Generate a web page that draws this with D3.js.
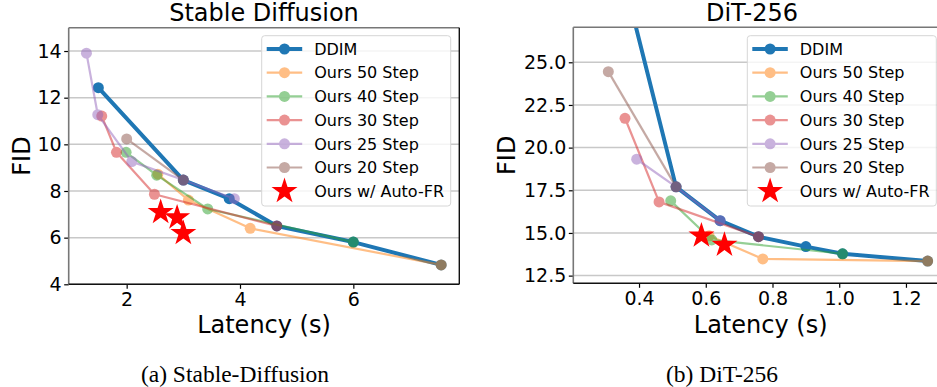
<!DOCTYPE html>
<html>
<head>
<meta charset="utf-8">
<script src="https://cdn.jsdelivr.net/npm/d3@7/dist/d3.min.js"></script>
<style>
  body { margin: 0; background: #fff; }
  text { font-family: "DejaVu Sans", sans-serif; }
</style>
</head>
<body>
<svg id="chart" width="937" height="387"></svg>
<script>
// series names / colours (tab10)
var seriesNames = ["DDIM", "Ours 50 Step", "Ours 40 Step", "Ours 30 Step", "Ours 25 Step", "Ours 20 Step"];
var seriesColors = ["#1f77b4", "#ff7f0e", "#2ca02c", "#d62728", "#9467bd", "#8c564b"];
var starName = "Ours w/ Auto-FR";

// Stable Diffusion: [latency s, FID]
var sdDDIM   = [[1.50,12.43],[3.00,8.47],[3.81,7.67],[4.65,6.50],[6.00,5.81],[7.55,4.83]];
var sdOurs50 = [[2.55,8.72],[3.09,7.61],[4.18,6.40],[7.55,4.83]];
var sdOurs40 = [[1.99,9.66],[2.53,8.68],[3.43,7.23],[6.00,5.81]];
var sdOurs30 = [[1.56,11.21],[1.82,9.66],[2.49,7.86],[4.65,6.50]];
var sdOurs25 = [[1.29,13.91],[1.49,11.27],[2.09,9.26],[3.00,8.47],[3.90,7.67]];
var sdOurs20 = [[2.00,10.23],[3.00,8.47]];
var sdAuto   = [[2.60,7.09],[2.89,6.86],[3.00,6.19]];
var sdXTicks = [2, 4, 6];
var sdYTicks = [4, 6, 8, 10, 12, 14];

// DiT-256
var ditDDIM   = [[0.254,37.7],[0.511,17.70],[0.643,15.72],[0.758,14.78],[0.900,14.20],[1.010,13.78],[1.265,13.35]];
var ditOurs50 = [[0.610,14.83],[0.771,13.48],[1.265,13.35]];
var ditOurs40 = [[0.495,16.88],[0.618,14.59],[1.010,13.78]];
var ditOurs30 = [[0.358,21.72],[0.460,16.82],[0.758,14.78]];
var ditOurs25 = [[0.393,19.32],[0.511,17.70],[0.643,15.72]];
var ditOurs20 = [[0.308,24.45],[0.511,17.70]];
var ditAuto   = [[0.587,14.84],[0.656,14.30]];
var ditXTicks = [0.4, 0.6, 0.8, 1.0, 1.2];
var ditYTicks = [12.5, 15.0, 17.5, 20.0, 22.5, 25.0];

var svg = d3.select("#chart");

function drawPanel(cfg) {
  var x = d3.scaleLinear().domain(cfg.xDomain).range([cfg.left, cfg.right]);
  var y = d3.scaleLinear().domain(cfg.yDomain).range([cfg.bottom, cfg.top]);
  var g = svg.append("g");

  g.append("clipPath").attr("id", cfg.id + "-clip")
    .append("rect")
    .attr("x", cfg.left).attr("y", cfg.top)
    .attr("width", cfg.right - cfg.left).attr("height", cfg.bottom - cfg.top);

  //horizontal grid
  g.append("g").selectAll("line").data(cfg.yTicks).join("line")
    .attr("x1", cfg.left).attr("x2", cfg.right)
    .attr("y1", function(d){ return y(d); }).attr("y2", function(d){ return y(d); })
    .attr("stroke", "#b0b0b0").attr("stroke-opacity", 0.7).attr("stroke-width", 1.5);

  var plot = g.append("g").attr("clip-path", "url(#" + cfg.id + "-clip)");
  var line = d3.line().x(function(d){ return x(d[0]); }).y(function(d){ return y(d[1]); });

  cfg.series.forEach(function(s, i) {
    var ddim = i == 0;
    var sg = plot.append("g").attr("opacity", ddim ? 1 : 0.5);
    sg.append("path").datum(s).attr("d", line)
      .attr("fill", "none").attr("stroke", seriesColors[i])
      .attr("stroke-width", ddim ? 4 : 2.2).attr("stroke-linejoin", "round");
    sg.selectAll("circle").data(s).join("circle")
      .attr("cx", function(d){ return x(d[0]); })
      .attr("cy", function(d){ return y(d[1]); })
      .attr("r", 5.5)
      .attr("fill", seriesColors[i]);
  });

  plot.selectAll("path.star").data(cfg.stars).join("path")
    .attr("class", "star")
    .attr("transform", function(d){ return "translate(" + x(d[0]) + "," + y(d[1]) + ")"; })
    .attr("d", d3.symbol().type(d3.symbolStar).size(210))
    .attr("fill", "red");

  // axes
  var xAxis = d3.axisBottom(x).tickValues(cfg.xTicks).tickSize(4.5).tickPadding(4)
    .tickFormat(cfg.xFormat);
  var yAxis = d3.axisLeft(y).tickValues(cfg.yTicks).tickSize(4.5).tickPadding(2.5)
    .tickFormat(cfg.yFormat);
  var gx = g.append("g").attr("transform", "translate(0," + cfg.bottom + ")").call(xAxis);
  var gy = g.append("g").attr("transform", "translate(" + cfg.left + ",0)").call(yAxis);
  [gx, gy].forEach(function(a){
    a.select(".domain").remove();
    a.selectAll("text").attr("font-size", 19).attr("fill", "#000")
      .style("font-family", "'DejaVu Sans', sans-serif");
    a.selectAll("line").attr("stroke", "#000").attr("stroke-width", 1.2);
  });

  // spines
  g.append("line").attr("x1", cfg.left).attr("x2", cfg.right).attr("y1", cfg.top).attr("y2", cfg.top)
    .attr("stroke", "#777").attr("stroke-width", 1.6);
  g.append("line").attr("x1", cfg.left).attr("x2", cfg.left).attr("y1", cfg.top).attr("y2", cfg.bottom)
    .attr("stroke", "#777").attr("stroke-width", 1.6);
  g.append("line").attr("x1", cfg.left).attr("x2", cfg.right).attr("y1", cfg.bottom).attr("y2", cfg.bottom)
    .attr("stroke", "#111").attr("stroke-width", 1.4);
  g.append("line").attr("x1", cfg.right).attr("x2", cfg.right).attr("y1", cfg.top).attr("y2", cfg.bottom)
    .attr("stroke", "#111").attr("stroke-width", 1.4);

  // titles and labels
  g.append("text").attr("x", cfg.titleX).attr("y", 21).attr("text-anchor", "middle")
    .attr("font-size", 24).text(cfg.title);
  g.append("text").attr("x", (cfg.left + cfg.right) / 2).attr("y", 333).attr("text-anchor", "middle")
    .attr("font-size", 24).text("Latency (s)");
  g.append("text").attr("transform", "translate(" + cfg.yLabelX + "," + ((cfg.top + cfg.bottom) / 2) + ") rotate(-90)")
    .attr("text-anchor", "middle").attr("font-size", 24).text("FID");
  g.append("text").attr("x", cfg.captionX).attr("y", 382).attr("text-anchor", "middle")
    .attr("font-size", 23.5).style("font-family", "'Liberation Serif', serif").text(cfg.caption);

  // legend
  var lg = g.append("g");
  lg.append("rect").attr("x", cfg.legX).attr("y", 35.7).attr("width", 189).attr("height", 170.3)
    .attr("rx", 3).attr("fill", "#fff").attr("fill-opacity", 0.8)
    .attr("stroke", "#d6d6d6").attr("stroke-width", 1);
  var rowY = function(i){ return 49 + i * 23.7; };
  seriesNames.forEach(function(name, i) {
    var ddim = i == 0;
    var e = lg.append("g").attr("opacity", ddim ? 1 : 0.5);
    e.append("line").attr("x1", cfg.legX + 5).attr("x2", cfg.legX + 40.5)
      .attr("y1", rowY(i)).attr("y2", rowY(i))
      .attr("stroke", seriesColors[i]).attr("stroke-width", ddim ? 4 : 2.2);
    e.append("circle").attr("cx", cfg.legX + 22.8).attr("cy", rowY(i)).attr("r", 5.5)
      .attr("fill", seriesColors[i]);
    lg.append("text").attr("x", cfg.legX + 52.5).attr("y", rowY(i)).attr("dy", "0.36em")
      .attr("font-size", 16).text(name);
  });
  lg.append("path")
    .attr("transform", "translate(" + (cfg.legX + 22.8) + "," + rowY(6) + ")")
    .attr("d", d3.symbol().type(d3.symbolStar).size(210)).attr("fill", "red");
  lg.append("text").attr("x", cfg.legX + 52.5).attr("y", rowY(6)).attr("dy", "0.36em")
    .attr("font-size", 16).text(starName);
}

drawPanel({
  id: "sd", title: "Stable Diffusion", caption: "(a) Stable-Diffusion",
  left: 68.7, right: 459.3, top: 27.7, bottom: 284.3,
  xDomain: [0.977, 7.87], yDomain: [4, 15],
  xTicks: sdXTicks, yTicks: sdYTicks,
  xFormat: d3.format("d"), yFormat: d3.format("d"),
  series: [sdDDIM, sdOurs50, sdOurs40, sdOurs30, sdOurs25, sdOurs20], stars: sdAuto,
  titleX: 264, yLabelX: 30, captionX: 235, legX: 261.7
});

drawPanel({
  id: "dit", title: "DiT-256", caption: "(b) DiT-256",
  left: 573.3, right: 948, top: 27.3, bottom: 283.3,
  xDomain: [0.203, 1.326], yDomain: [12.05, 27.05],
  xTicks: ditXTicks, yTicks: ditYTicks,
  xFormat: d3.format(".1f"), yFormat: d3.format(".1f"),
  series: [ditDDIM, ditOurs50, ditOurs40, ditOurs30, ditOurs25, ditOurs20], stars: ditAuto,
  titleX: 752, yLabelX: 515, captionX: 722, legX: 747.3
});
</script>
</body>
</html>
